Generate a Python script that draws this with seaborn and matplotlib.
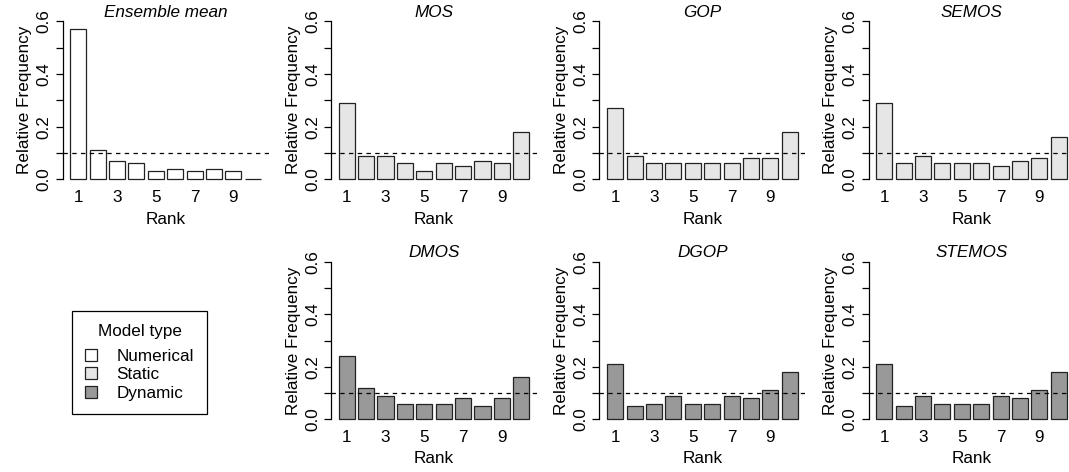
import matplotlib
matplotlib.use("Agg")
import matplotlib.pyplot as plt
from matplotlib.patches import Patch
import seaborn as sns
import pandas as pd
import numpy as np

sns.set_theme(style="white")
plt.rcParams['font.family'] = ['Liberation Sans', 'DejaVu Sans']
plt.rcParams['text.color'] = 'black'
plt.rcParams['axes.labelcolor'] = 'black'
plt.rcParams['xtick.color'] = 'black'
plt.rcParams['ytick.color'] = 'black'

ranks = [str(i) for i in range(1, 11)]
ensemble_mean = [0.57, 0.11, 0.07, 0.06, 0.03, 0.04, 0.03, 0.04, 0.03, 0.00]
mos = [0.29, 0.09, 0.09, 0.06, 0.03, 0.06, 0.05, 0.07, 0.06, 0.18]
gop = [0.27, 0.09, 0.06, 0.06, 0.06, 0.06, 0.06, 0.08, 0.08, 0.18]
semos = [0.29, 0.06, 0.09, 0.06, 0.06, 0.06, 0.05, 0.07, 0.08, 0.16]
dmos = [0.24, 0.12, 0.09, 0.06, 0.06, 0.06, 0.08, 0.05, 0.08, 0.16]
dgop = [0.21, 0.05, 0.06, 0.09, 0.06, 0.06, 0.09, 0.08, 0.11, 0.18]
stemos = [0.21, 0.05, 0.09, 0.06, 0.06, 0.06, 0.09, 0.08, 0.11, 0.18]

model_names = ["Ensemble mean", "MOS", "GOP", "SEMOS", "DMOS", "DGOP", "STEMOS"]
model_types = ["Numerical", "Static", "Static", "Static", "Dynamic", "Dynamic", "Dynamic"]
model_values = [ensemble_mean, mos, gop, semos, dmos, dgop, stemos]
type_colors = {"Numerical": "#FFFFFF", "Static": "#E6E6E6", "Dynamic": "#999999"}
ref_level = 0.1

W, H = 1069, 472
fig = plt.figure(figsize=(W / 100, H / 100), dpi=100)

col_left = [62.5, 331, 599.5, 868.5]
pw = 206
rows = [(15, 185.6), (255.4, 425.6)]
slots = [(0, 0), (0, 1), (0, 2), (0, 3), (1, 1), (1, 2), (1, 3)]

FS = 12.3
for name, mtype, vals, (r, c) in zip(model_names, model_types, model_values, slots):
    top, bot = rows[r]
    ax = fig.add_axes([col_left[c] / W, 1 - bot / H, pw / W, (bot - top) / H])
    df = pd.DataFrame({"Rank": ranks, "Freq": vals})
    sns.barplot(data=df, x="Rank", y="Freq", order=ranks, color=type_colors[mtype],
                saturation=1, width=1 / 1.2, edgecolor="#222222", linewidth=0.9, ax=ax)
    ax.axhline(ref_level, color="black", lw=0.9, ls=(0, (3.5, 3.5)), zorder=5)
    ax.set_xlim(-0.81, 9.81)
    ax.set_ylim(-0.024, 0.624)
    for s in ["top", "right", "bottom"]:
        ax.spines[s].set_visible(False)
    ax.spines["left"].set_bounds(0, 0.6)
    ax.spines["left"].set_color("black")
    ax.spines["left"].set_linewidth(0.9)
    yt = np.round(np.arange(0, 0.61, 0.1), 1)
    ax.set_yticks(yt)
    ax.set_yticklabels([f"{v:.1f}" if i % 2 == 0 else "" for i, v in enumerate(yt)],
                       rotation=90, va="center", fontsize=FS)
    ax.tick_params(axis="y", length=5, width=0.9, color="black", pad=3, left=True, direction="out")
    xt = list(range(0, 10, 2))
    ax.set_xticks(xt)
    ax.set_xticklabels([ranks[i] for i in xt], fontsize=FS)
    ax.tick_params(axis="x", length=0, pad=3.5)
    ax.set_xlabel("Rank", fontsize=FS, labelpad=5 if r == 0 else 4)
    ax.set_ylabel("Relative Frequency", fontsize=FS, labelpad=3)
    ax.set_title(name, fontsize=FS, style="italic", pad=-1.5)
    ax.set_facecolor("none")
    ax.grid(False)

handles = [Patch(facecolor=type_colors[t], edgecolor="#222222", linewidth=0.9, label=t)
           for t in ["Numerical", "Static", "Dynamic"]]
leg = fig.legend(handles=handles, title="Model type", loc="center",
                 bbox_to_anchor=(139.5 / W, 1 - 362.5 / H), fontsize=FS, title_fontsize=FS,
                 frameon=True, fancybox=False, edgecolor="black", framealpha=1,
                 handlelength=0.7, handleheight=0.7, handletextpad=1.1,
                 labelspacing=0.2, borderpad=0.8, borderaxespad=0)
leg.get_frame().set_linewidth(0.9)
leg._legend_box.sep = 7

fig.savefig("out.png", dpi=100)
